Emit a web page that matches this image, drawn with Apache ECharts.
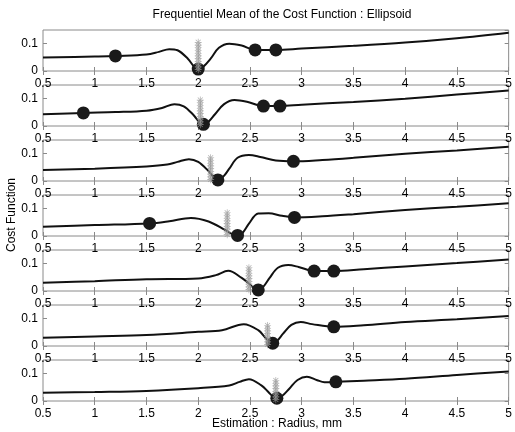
<!DOCTYPE html>
<html>
<head>
<meta charset="utf-8">
<script src="https://cdn.jsdelivr.net/npm/echarts@6/dist/echarts.min.js"></script>
<style>
  html, body { margin: 0; padding: 0; background: #fff; }
  #chart { width: 515px; height: 432px; }
</style>
</head>
<body>
<div id="chart"></div>
<script>
// mean cost curve of each panel: [radius, cost]
const curve1 = [[0.5,0.049],[1.0,0.053],[1.2,0.055],[1.5,0.06],[1.62,0.07],[1.72,0.08],[1.8,0.076],[1.9,0.045],[1.96,0.016],[2.0,0.007],[2.05,0.016],[2.12,0.045],[2.2,0.085],[2.3,0.1],[2.42,0.093],[2.55,0.077],[2.75,0.077],[3.0,0.082],[3.5,0.092],[4.0,0.104],[4.5,0.12],[5.0,0.14]];
const curve2 = [[0.5,0.043],[0.89,0.048],[1.2,0.051],[1.5,0.056],[1.65,0.066],[1.77,0.08],[1.86,0.072],[1.95,0.042],[2.01,0.015],[2.05,0.006],[2.1,0.016],[2.16,0.042],[2.25,0.08],[2.35,0.095],[2.47,0.089],[2.63,0.073],[2.79,0.073],[3.0,0.078],[3.5,0.088],[4.0,0.1],[4.5,0.115],[5.0,0.13]];
const curve3 = [[0.5,0.04],[1.0,0.045],[1.5,0.053],[1.7,0.06],[1.8,0.07],[1.91,0.08],[2.0,0.07],[2.1,0.036],[2.15,0.014],[2.19,0.004],[2.24,0.015],[2.3,0.045],[2.38,0.085],[2.49,0.095],[2.6,0.088],[2.75,0.075],[2.92,0.072],[3.2,0.077],[3.5,0.085],[4.0,0.1],[4.5,0.112],[5.0,0.125]];
const curve4 = [[0.5,0.034],[1.0,0.04],[1.53,0.046],[1.72,0.054],[1.93,0.066],[2.1,0.053],[2.26,0.022],[2.33,0.007],[2.38,0.002],[2.43,0.012],[2.49,0.045],[2.58,0.082],[2.68,0.083],[2.81,0.074],[2.93,0.068],[3.2,0.072],[3.5,0.08],[4.0,0.095],[4.5,0.107],[5.0,0.12]];
const curve5 = [[0.5,0.03],[1.0,0.036],[1.5,0.043],[2.0,0.046],[2.17,0.058],[2.29,0.074],[2.42,0.048],[2.5,0.024],[2.54,0.01],[2.58,0.004],[2.63,0.016],[2.69,0.048],[2.77,0.085],[2.87,0.095],[2.97,0.088],[3.12,0.073],[3.31,0.073],[3.6,0.08],[4.0,0.09],[4.5,0.102],[5.0,0.115]];
const curve6 = [[0.5,0.03],[1.0,0.035],[1.5,0.04],[2.0,0.052],[2.23,0.058],[2.44,0.08],[2.58,0.058],[2.65,0.03],[2.69,0.016],[2.72,0.01],[2.76,0.018],[2.82,0.045],[2.9,0.077],[2.99,0.088],[3.1,0.08],[3.31,0.07],[3.6,0.076],[4.0,0.088],[4.5,0.098],[5.0,0.11]];
const curve7 = [[0.5,0.03],[1.0,0.033],[1.5,0.037],[2.0,0.047],[2.3,0.057],[2.4,0.07],[2.49,0.08],[2.61,0.057],[2.68,0.032],[2.72,0.017],[2.76,0.01],[2.81,0.018],[2.88,0.045],[2.96,0.077],[3.05,0.089],[3.15,0.076],[3.22,0.069],[3.33,0.07],[3.6,0.074],[4.0,0.081],[4.5,0.095],[5.0,0.108]];

// black markers on each curve
const dots1 = [[1.2,0.055],[2.0,0.007],[2.55,0.077],[2.75,0.077]];
const dots2 = [[0.89,0.048],[2.05,0.006],[2.63,0.073],[2.79,0.073]];
const dots3 = [[2.19,0.004],[2.92,0.072]];
const dots4 = [[1.53,0.046],[2.38,0.002],[2.93,0.068]];
const dots5 = [[2.58,0.004],[3.12,0.073],[3.31,0.073]];
const dots6 = [[2.72,0.01],[3.31,0.07]];
const dots7 = [[2.76,0.01],[3.33,0.07]];

// grey asterisk columns
const starX = [2.0, 2.02, 2.12, 2.28, 2.49, 2.67, 2.75];
const starTop = [0.11, 0.095, 0.09, 0.088, 0.086, 0.082, 0.081];
const starLevels = [0.005, 0.015, 0.025, 0.035, 0.045, 0.055, 0.065, 0.075, 0.085, 0.095, 0.105];

const xTicks = ['0.5','1','1.5','2','2.5','3','3.5','4','4.5','5'];

const curves = [curve1, curve2, curve3, curve4, curve5, curve6, curve7];
const dots = [dots1, dots2, dots3, dots4, dots5, dots6, dots7];

const FONT = 'Liberation Sans';
const EDGE = '#8a8a8a';
const STAR = 'path://M-5,-0.5L5,-0.5L5,0.5L-5,0.5Z M-0.5,-5L0.5,-5L0.5,5L-0.5,5Z M-3.9,-3.2L3.2,3.9L3.9,3.2L-3.2,-3.9Z M-3.9,3.2L3.2,-3.9L3.9,-3.2L-3.2,3.9Z';

const grids = [], xAxes = [], yAxes = [], series = [];
curves.forEach((c, i) => {
  grids.push({
    left: 43, right: 3, top: 30 + i * 55, height: 41,
    show: true, borderColor: EDGE, borderWidth: 1, backgroundColor: 'transparent'
  });
  const xBase = {
    type: 'value', gridIndex: i, min: 0.5, max: 5, interval: 0.5,
    axisLine: { show: false }, splitLine: { show: false },
    axisTick: { inside: true, length: 4, lineStyle: { color: EDGE } }
  };
  xAxes.push(Object.assign({}, xBase, {
    position: 'bottom',
    axisLabel: { color: '#000', fontFamily: FONT, fontSize: 12, margin: 7,
      formatter: v => xTicks[Math.round((v - 0.5) / 0.5)] }
  }));
  xAxes.push(Object.assign({}, xBase, { position: 'top', axisLabel: { show: false } }));
  const yBase = {
    type: 'value', gridIndex: i, min: 0, max: 0.15, interval: 0.1,
    axisLine: { show: false }, splitLine: { show: false },
    axisTick: { inside: true, length: 4, lineStyle: { color: EDGE } }
  };
  yAxes.push(Object.assign({}, yBase, {
    position: 'left',
    axisLabel: { color: '#000', fontFamily: FONT, fontSize: 12, margin: 5, showMaxLabel: false }
  }));
  yAxes.push(Object.assign({}, yBase, { position: 'right', axisLabel: { show: false } }));

  series.push({
    type: 'line', xAxisIndex: 2 * i, yAxisIndex: 2 * i, data: c,
    smooth: 0.35, showSymbol: false, lineStyle: { color: '#111', width: 2 }, z: 2
  });
  series.push({
    type: 'scatter', xAxisIndex: 2 * i, yAxisIndex: 2 * i, data: dots[i],
    symbolSize: 13, itemStyle: { color: '#1a1a1a', opacity: 1 }, z: 3
  });
  series.push({
    type: 'scatter', xAxisIndex: 2 * i, yAxisIndex: 2 * i,
    data: starLevels.filter(y => y <= starTop[i]).map(y => [starX[i], y]),
    symbol: STAR, symbolSize: 7, itemStyle: { color: '#9a9a9a', opacity: 0.8 }, z: 4
  });
});

const chart = echarts.init(document.getElementById('chart'), null, { renderer: 'canvas' });
chart.setOption({
  animation: false,
  backgroundColor: '#fff',
  title: {
    text: 'Frequentiel Mean of the Cost Function : Ellipsoid',
    left: 277, top: 4, textAlign: 'center',
    textStyle: { fontFamily: FONT, fontSize: 12, fontWeight: 'normal', color: '#000' }
  },
  graphic: [
    { type: 'text', x: 277, y: 424, style: { text: 'Estimation : Radius, mm', font: '12px "Liberation Sans"', fill: '#000', textAlign: 'center', textVerticalAlign: 'middle' } },
    { type: 'text', x: 12, y: 215, rotation: Math.PI / 2, style: { text: 'Cost Function', font: '12px "Liberation Sans"', fill: '#000', textAlign: 'center', textVerticalAlign: 'middle' } }
  ],
  grid: grids,
  xAxis: xAxes,
  yAxis: yAxes,
  series: series
});
</script>
</body>
</html>
